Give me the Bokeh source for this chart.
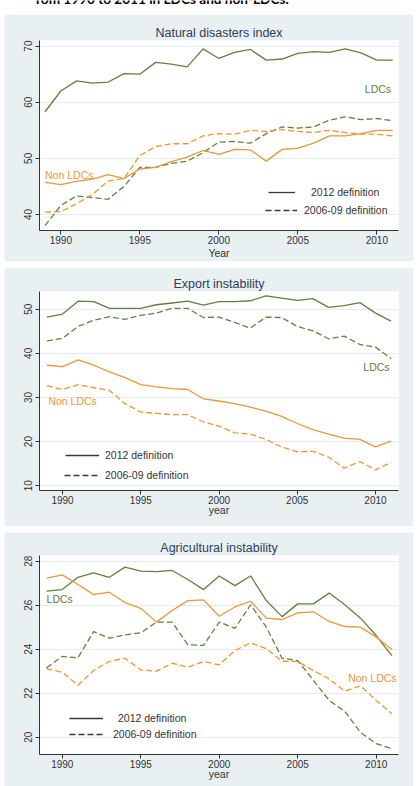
from bokeh.plotting import figure
from bokeh.layouts import column
from bokeh.models import Range1d, Label, Legend, LegendItem, FixedTicker
from bokeh.embed import file_html
from bokeh.resources import INLINE

# ---- data -------------------------------------------------------------
years = list(range(1989, 2012))

# Natural disasters index
nd_ldc_2012 = [58.3, 62.0, 63.8, 63.4, 63.6, 65.1, 65.0, 67.1, 66.8, 66.3, 69.5, 67.8,
               68.9, 69.4, 67.5, 67.7, 68.7, 69.0, 68.9, 69.5, 68.8, 67.5, 67.5]
nd_ldc_0609 = [38.0, 41.6, 43.3, 43.0, 42.7, 45.0, 48.4, 48.4, 49.1, 49.5, 51.0, 52.9,
               53.0, 52.7, 54.4, 55.6, 55.4, 55.6, 56.8, 57.4, 56.9, 57.1, 56.7]
nd_non_2012 = [45.7, 45.3, 45.9, 46.3, 47.1, 46.4, 48.1, 48.4, 49.4, 50.2, 51.4, 50.7,
               51.6, 51.5, 49.5, 51.6, 51.8, 52.7, 54.0, 54.0, 54.4, 55.0, 55.0]
nd_non_0609 = [40.4, 40.5, 41.9, 43.6, 46.0, 46.4, 50.5, 52.1, 52.6, 52.6, 54.0, 54.4,
               54.3, 55.0, 54.8, 55.1, 54.8, 54.6, 55.0, 54.6, 54.3, 54.3, 54.0]

# Export instability
ex_ldc_2012 = [48.2, 48.9, 51.8, 51.7, 50.2, 50.2, 50.2, 51.0, 51.4, 51.8, 50.9, 51.7,
               51.7, 51.9, 53.0, 52.5, 52.0, 52.4, 50.4, 50.8, 51.5, 49.1, 47.3]
ex_ldc_0609 = [42.8, 43.4, 46.1, 47.5, 48.3, 47.7, 48.6, 49.1, 50.2, 50.2, 48.1, 48.2,
               47.0, 45.7, 48.2, 48.1, 46.1, 45.1, 43.3, 43.9, 42.0, 41.4, 38.8]
ex_non_2012 = [37.3, 37.0, 38.5, 37.3, 35.8, 34.5, 32.9, 32.4, 32.0, 31.8, 29.7, 29.2,
               28.6, 27.8, 26.9, 25.7, 24.1, 22.7, 21.7, 20.8, 20.5, 18.8, 20.1]
ex_non_0609 = [32.7, 31.8, 32.9, 32.2, 31.6, 28.6, 26.7, 26.4, 26.1, 26.1, 24.5, 23.5,
               22.0, 21.7, 20.5, 18.8, 17.7, 17.8, 16.5, 14.0, 15.5, 13.6, 15.3]

# Agricultural instability
ag_ldc_2012 = [26.64, 26.71, 27.27, 27.47, 27.27, 27.73, 27.55, 27.53, 27.58, 27.17, 26.71, 27.33,
               26.89, 27.33, 26.21, 25.48, 26.06, 26.06, 26.55, 26.02, 25.41, 24.62, 23.71]
ag_ldc_0609 = [23.15, 23.67, 23.61, 24.80, 24.50, 24.65, 24.74, 25.23, 25.23, 24.20, 24.17, 25.23,
               24.95, 26.02, 25.00, 23.59, 23.48, 22.58, 21.67, 21.17, 20.21, 19.70, 19.47]
ag_non_2012 = [27.23, 27.38, 26.94, 26.48, 26.59, 26.12, 25.86, 25.23, 25.76, 26.21, 26.24, 25.50,
               25.92, 26.18, 25.41, 25.35, 25.65, 25.70, 25.26, 25.03, 25.00, 24.55, 23.98]
ag_non_0609 = [23.11, 22.95, 22.36, 23.03, 23.44, 23.59, 23.06, 23.00, 23.36, 23.18, 23.44, 23.29,
               23.94, 24.29, 24.02, 23.45, 23.44, 23.03, 22.65, 22.09, 22.33, 21.67, 21.06]

x_ticks = [1990, 1995, 2000, 2005, 2010]
legend_labels = ["2012 definition", "2006-09 definition"]

# ---- styling ----------------------------------------------------------
GREEN = "#62803f"
ORANGE = "#ef9538"
BOX = "#e8f0f2"
GRID = "#e4ecef"
INK = "#333333"
TITLE = "#2f3d58"
FONT = "Liberation Sans"
WIDTH = 409
NAN = float("nan")


def make_panel(title, xlabel, ldc, non, xr, yr, yticks, height, borders, margin,
               xlabel_standoff, keys, ldc_lab, non_lab):
    left, right, top, bottom = borders
    p = figure(width=WIDTH, height=height, x_range=Range1d(*xr), y_range=Range1d(*yr),
               output_backend="svg", toolbar_location=None, title=title,
               min_border_left=left, min_border_right=right,
               min_border_top=top, min_border_bottom=bottom, margin=margin)
    p.border_fill_color = BOX
    p.background_fill_color = "white"
    p.outline_line_color = None
    p.xgrid.visible = False
    p.ygrid.grid_line_color = GRID
    p.ygrid.grid_line_width = 1

    p.title.align = "center"
    p.title.text_font = FONT
    p.title.text_font_size = "12.5px"
    p.title.text_font_style = "normal"
    p.title.text_color = TITLE
    p.title.standoff = 1
    p.title.offset = 0

    p.xaxis.ticker = FixedTicker(ticks=x_ticks)
    p.yaxis.ticker = FixedTicker(ticks=yticks)
    p.yaxis.major_label_orientation = "vertical"
    for ax in (p.xaxis, p.yaxis):
        ax.axis_line_color = INK
        ax.major_tick_line_color = INK
        ax.major_tick_in = 0
        ax.major_tick_out = 4
        ax.minor_tick_line_color = None
        ax.major_label_text_font = FONT
        ax.major_label_text_font_size = "10px"
        ax.major_label_text_color = INK
    p.xaxis.major_label_standoff = 1
    p.yaxis.major_label_standoff = 3
    p.xaxis.axis_label = xlabel
    p.xaxis.axis_label_text_font = FONT
    p.xaxis.axis_label_text_font_size = "10.5px"
    p.xaxis.axis_label_text_font_style = "normal"
    p.xaxis.axis_label_text_color = INK
    p.xaxis.axis_label_standoff = xlabel_standoff

    # series: solid = 2012 definition, dashed = 2006-09 definition
    for vals, col, dash in ((ldc[0], GREEN, "solid"), (ldc[1], GREEN, "6 3"),
                            (non[0], ORANGE, "solid"), (non[1], ORANGE, "6 3")):
        p.line(years, vals, line_color=col, line_width=1.3, line_dash=dash)

    # group labels
    for (lx, ly, align), txt, col in ((ldc_lab, "LDCs", GREEN), (non_lab, "Non LDCs", ORANGE)):
        p.add_layout(Label(x=lx, y=ly, text=txt, text_font=FONT, text_font_size="10.5px",
                           text_color=col, text_align=align, text_baseline="middle"))

    # legend keys, one per definition
    for (vx, vy, gw, standoff, h), lab, dash in zip(keys, legend_labels, ("solid", "6 3")):
        r = p.line(x=[NAN, NAN], y=[NAN, NAN], line_color="#3a3a3a", line_width=1.3,
                   line_dash=dash)
        leg = Legend(items=[LegendItem(label=lab, renderers=[r])], location=(vx, vy),
                     glyph_width=gw, glyph_height=h, label_height=h, label_standoff=standoff,
                     padding=0, margin=0, spacing=0, border_line_color=None,
                     background_fill_alpha=0, label_text_font=FONT,
                     label_text_font_size="10.5px", label_text_color=INK)
        p.add_layout(leg, "center")
    return p


head = figure(width=419, height=14, output_backend="svg", toolbar_location=None,
              x_range=Range1d(0, 419), y_range=Range1d(0, 14), title=None,
              x_axis_location=None, y_axis_location=None, min_border=0)
head.outline_line_color = None
head.grid.visible = False
head.border_fill_color = "white"
head.background_fill_color = "white"
head.add_layout(Label(x=-5, y=15.5, text="from 1990 to 2011 in LDCs and non-LDCs.",
                      text_font="Lato", text_font_style="bold", text_font_size="13.6px",
                      text_color="black", text_baseline="alphabetic"))

p1 = make_panel("Natural disasters index", "Year",
                (nd_ldc_2012, nd_ldc_0609), (nd_non_2012, nd_non_0609),
                (1988.65, 2011.37), (37.14, 71.0), [40, 50, 60, 70],
                247, (35, 15, 26, 28), (0, 6, 0, 4), 0,
                [(229, 29, 27, 16, 18), (226, 11, 32, 7, 18)],
                (2010.9, 62.4, "right"), (1989.0, 47.1, "left"))

p2 = make_panel("Export instability", "year",
                (ex_ldc_2012, ex_ldc_0609), (ex_non_2012, ex_non_0609),
                (1988.53, 2011.47), (8.93, 54.0), [10, 20, 30, 40, 50],
                259, (29, 10, 24, 36), (6, 6, 0, 4), -3,
                [(26, 25, 34, 6, 20), (25, 5, 34, 7, 20)],
                (2010.9, 36.9, "right"), (1989.1, 29.2, "left"))

p3 = make_panel("Agricultural instability", "year",
                (ag_ldc_2012, ag_ldc_0609), (ag_non_2012, ag_non_0609),
                (1988.55, 2011.42), (19.21, 28.26), [20, 22, 24, 26, 28],
                254, (29, 9, 23, 32), (6, 6, 0, 4), -3,
                [(30, 28, 34, 15, 16), (30, 12, 34, 10, 16)],
                (1989.0, 26.3, "left"), (2011.3, 22.67, "right"))

layout = column(head, p1, p2, p3, spacing=0)
open("out.html", "w").write(file_html(layout, INLINE))
